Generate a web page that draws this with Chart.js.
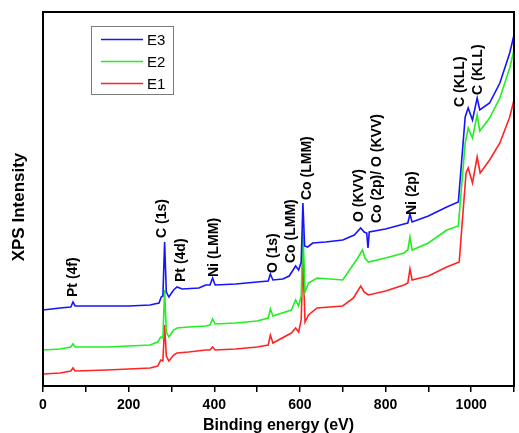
<!DOCTYPE html>
<html>
<head>
<meta charset="utf-8">
<script src="https://cdn.jsdelivr.net/npm/chart.js@4.4.1/dist/chart.umd.min.js"></script>
<style>
  html, body { margin: 0; padding: 0; background: #ffffff; }
  #wrap { width: 519px; height: 433px; position: relative; }
</style>
</head>
<body>
<div id="wrap"><canvas id="c" width="519" height="433"></canvas></div>
<script>
// ---- Data (binding energy in eV, intensity in arbitrary units) ----
const seriesNames = ["E3", "E2", "E1"];

const e3Energy = [0, 20, 40, 65, 70, 75, 110, 150, 200, 250, 260, 271, 276, 280, 284, 288, 294, 305, 313, 325, 364, 380, 390, 396, 402, 450, 500, 526, 531, 537, 560, 575, 590, 597, 603, 607, 611, 618, 630, 660, 700, 727, 742, 750, 756, 759, 762, 800, 843, 852, 857, 862, 900, 943, 970, 986, 993, 1003, 1014, 1020, 1043, 1067, 1090, 1100];
const e3Counts = [76, 77, 78, 79, 84, 80, 80, 80, 80, 81, 82, 83, 89, 90, 144, 94, 89, 96, 99, 97, 98, 101, 101, 108, 101, 102, 104, 105, 112, 106, 107, 110, 120, 116, 124, 183, 140, 139, 143, 144, 146, 151, 158, 154, 153, 138, 154, 157, 162, 163, 172, 164, 170, 179, 184, 269, 278, 266, 288, 276, 283, 303, 333, 351];

const e2Energy = [0, 40, 65, 70, 75, 150, 250, 268, 275, 280, 284, 288, 294, 305, 313, 340, 380, 390, 396, 402, 450, 500, 526, 531, 537, 580, 590, 597, 603, 607, 612, 620, 640, 700, 735, 746, 752, 760, 800, 843, 852, 857, 862, 900, 943, 970, 986, 993, 1003, 1014, 1020, 1043, 1067, 1090, 1100];
const e2Counts = [36, 37, 39, 42, 39, 39, 41, 44, 49, 48, 96, 54, 49, 56, 58, 59, 60, 61, 67, 62, 63, 65, 68, 77, 70, 76, 86, 80, 90, 156, 94, 103, 108, 106, 128, 136, 128, 124, 128, 133, 136, 149, 136, 143, 156, 160, 243, 258, 248, 271, 255, 268, 288, 318, 336];

const e1Energy = [0, 40, 65, 70, 75, 150, 250, 268, 275, 280, 284, 288, 294, 305, 313, 340, 380, 390, 396, 402, 450, 500, 526, 531, 537, 580, 590, 597, 603, 607, 612, 620, 640, 700, 725, 742, 750, 760, 800, 843, 852, 857, 862, 900, 943, 972, 988, 993, 1003, 1014, 1021, 1043, 1067, 1090, 1100];
const e1Counts = [12, 13, 15, 18, 15, 16, 18, 20, 26, 25, 61, 30, 25, 31, 33, 34, 36, 36, 39, 36, 37, 39, 41, 51, 43, 53, 58, 54, 66, 128, 64, 71, 78, 80, 88, 100, 94, 91, 95, 101, 103, 117, 106, 110, 119, 124, 213, 218, 203, 229, 213, 226, 243, 269, 286];

const xTicks = [0, 200, 400, 600, 800, 1000];

// Peak labels: text, energy (eV) of label centre, intensity where the text starts
const peakText   = ["Pt (4f)", "C (1s)", "Pt (4d)", "Ni (LMM)", "O (1s)", "Co (LMM)", "Co (LMM)", "O (KVV)", "Co (2p)/ O (KVV)", "Ni (2p)", "C (KLL)", "C (KLL)"];
const peakEnergy = [70, 278, 322, 400, 537, 580, 618, 738, 780, 861, 975, 1017];
const peakLevel  = [89, 148, 104, 109, 113, 123, 186, 164, 163, 171, 279, 291];

const colors = ["#1414ff", "#22ee22", "#ff2424"];

function pts(xs, ys) { return xs.map((x, i) => ({x: x, y: ys[i]})); }

const datasets = [
  {label: seriesNames[0], data: pts(e3Energy, e3Counts), borderColor: colors[0]},
  {label: seriesNames[1], data: pts(e2Energy, e2Counts), borderColor: colors[1]},
  {label: seriesNames[2], data: pts(e1Energy, e1Counts), borderColor: colors[2]}
].map(d => Object.assign(d, {borderWidth: 1.6, pointRadius: 0, tension: 0, fill: false}));

const FONT = '"Liberation Sans", Arial, sans-serif';

const framePlugin = {
  id: 'frame',
  afterDatasetsDraw(chart) {
    const {ctx, chartArea: a, scales} = chart;
    ctx.save();
    // frame
    ctx.strokeStyle = '#000';
    ctx.lineWidth = 2;
    ctx.strokeRect(a.left, a.top, a.right - a.left, a.bottom - a.top);
    // peak labels
    ctx.fillStyle = '#000';
    ctx.font = 'bold 14px ' + FONT;
    ctx.textAlign = 'left';
    ctx.textBaseline = 'middle';
    peakText.forEach((t, i) => {
      const px = scales.x.getPixelForValue(peakEnergy[i]);
      const py = scales.y.getPixelForValue(peakLevel[i]);
      ctx.save();
      ctx.translate(px, py);
      ctx.rotate(-Math.PI / 2);
      ctx.fillText(t, 0, 0);
      ctx.restore();
    });
    // y-axis title
    ctx.save();
    ctx.font = 'bold 17px ' + FONT;
    ctx.textAlign = 'center';
    ctx.translate(19, 207);
    ctx.rotate(-Math.PI / 2);
    ctx.fillText('XPS Intensity', 0, 0);
    ctx.restore();
    // legend
    const lx = 91, ly = 26, lw = 82, lh = 68;
    ctx.fillStyle = '#fff';
    ctx.fillRect(lx, ly, lw, lh);
    ctx.strokeStyle = '#7a7a7a';
    ctx.lineWidth = 1;
    ctx.strokeRect(lx + 0.5, ly + 0.5, lw, lh);
    ctx.font = '15px ' + FONT;
    ctx.textAlign = 'left';
    ctx.textBaseline = 'middle';
    chart.data.datasets.forEach((d, i) => {
      const yy = 39.5 + i * 22;
      ctx.strokeStyle = d.borderColor;
      ctx.lineWidth = 1.5;
      ctx.beginPath();
      ctx.moveTo(101, yy);
      ctx.lineTo(143, yy);
      ctx.stroke();
      ctx.fillStyle = '#000';
      ctx.fillText(d.label, 147, yy + 1);
    });
    ctx.restore();
  }
};

new Chart(document.getElementById('c'), {
  type: 'line',
  data: {datasets: datasets},
  options: {
    responsive: false,
    animation: false,
    layout: {padding: {top: 12, right: 1, left: 0, bottom: 0}},
    plugins: {legend: {display: false}, tooltip: {enabled: false}},
    scales: {
      x: {
        type: 'linear', min: 0, max: 1100,
        afterFit(s) { s.height = 47; },
        afterBuildTicks(s) {
          const t = [];
          for (let v = 0; v <= 1100; v += 100) t.push({value: v});
          s.ticks = t;
        },
        ticks: {
          autoSkip: false, maxRotation: 0, padding: 5,
          color: '#000',
          font: {family: FONT, size: 14, weight: 'bold'},
          callback: v => xTicks.includes(v) ? String(v) : ''
        },
        grid: {drawOnChartArea: false, drawTicks: true, tickLength: 6, color: '#000', lineWidth: 1.5},
        border: {display: true, color: '#000', width: 2},
        title: {display: true, text: 'Binding energy (eV)', color: '#000',
          font: {family: FONT, size: 16, weight: 'bold'},
          padding: {top: 0, bottom: -2}}
      },
      y: {
        min: 0, max: 374,
        afterFit(s) { s.width = 43; },
        ticks: {display: false},
        grid: {display: false},
        border: {display: true, color: '#000', width: 2},
        title: {display: false}
      }
    }
  },
  plugins: [framePlugin]
});
</script>
</body>
</html>
